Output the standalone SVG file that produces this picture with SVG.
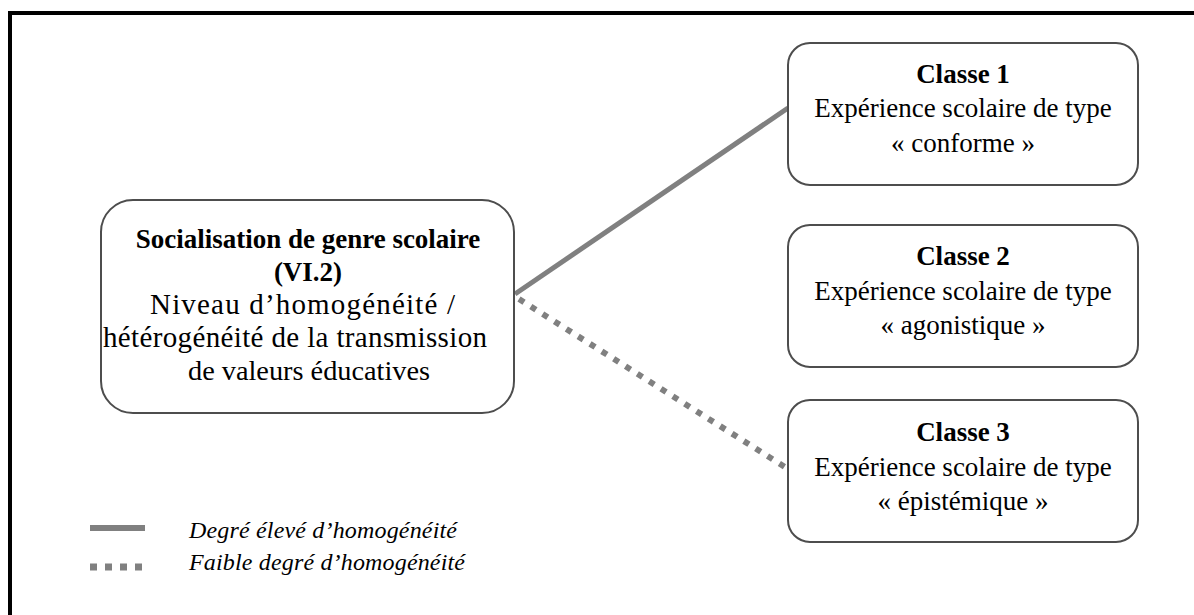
<svg xmlns="http://www.w3.org/2000/svg" width="1194" height="615" viewBox="0 0 1194 615">
<style>
.box{fill:#fff;stroke:#4d4d4d;stroke-width:2}
.t{font-family:"Liberation Serif","Times New Roman",serif;font-size:27px;fill:#000;text-anchor:middle}
.m{font-size:29px}
.b{font-weight:bold}
.leg{font-family:"Liberation Serif","Times New Roman",serif;font-size:24px;font-style:italic;fill:#000}
.solid{stroke:#808080;stroke-width:5;fill:none}
.dot{stroke:#808080;stroke-width:6;fill:none;stroke-dasharray:6 8}
</style>
<rect x="10" y="13" width="1200" height="620" fill="#fff" stroke="#000" stroke-width="4"/>
<g id="connectors">
<line class="solid" x1="515" y1="294" x2="788" y2="108"/>
<line class="dot" x1="519" y1="299" x2="788" y2="469"/>
</g>
<g id="main">
<rect class="box" x="101" y="200" width="413" height="213" rx="32" ry="32"/>
<text class="t b" x="308" y="248">Socialisation de genre scolaire</text>
<text class="t b" x="308" y="281">(VI.2)</text>
<text class="t m" x="302.5" y="314" textLength="305" lengthAdjust="spacing">Niveau d’homogénéité /</text>
<text class="t m" x="295" y="347" textLength="384" lengthAdjust="spacing">hétérogénéité de la transmission</text>
<text class="t" x="309" y="380" style="font-size:28.3px">de valeurs éducatives</text>
</g>
<g id="classe1">
<rect class="box" x="788" y="43" width="350" height="142" rx="22" ry="22"/>
<text class="t b" x="963" y="83">Classe 1</text>
<text class="t" x="963" y="117">Expérience scolaire de type</text>
<text class="t" x="963" y="152">« conforme »</text>
</g>
<g id="classe2">
<rect class="box" x="788" y="225" width="350" height="142" rx="22" ry="22"/>
<text class="t b" x="963" y="265">Classe 2</text>
<text class="t" x="963" y="300">Expérience scolaire de type</text>
<text class="t" x="963" y="334">« agonistique »</text>
</g>
<g id="classe3">
<rect class="box" x="788" y="400" width="350" height="142" rx="22" ry="22"/>
<text class="t b" x="963" y="441">Classe 3</text>
<text class="t" x="963" y="476">Expérience scolaire de type</text>
<text class="t" x="963" y="510">« épistémique »</text>
</g>
<g id="legend">
<line class="solid" x1="90" y1="528" x2="145" y2="528" style="stroke-width:6"/>
<line class="dot" x1="90" y1="567" x2="145" y2="567" style="stroke-width:7;stroke-dasharray:7 8"/>
<text class="leg" x="189" y="538" textLength="268" lengthAdjust="spacing">Degré élevé d’homogénéité</text>
<text class="leg" x="189" y="570" textLength="276" lengthAdjust="spacing">Faible degré d’homogénéité</text>
</g>
</svg>
